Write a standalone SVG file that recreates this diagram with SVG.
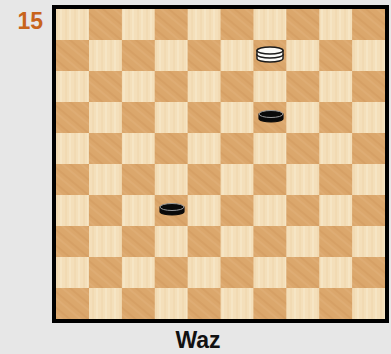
<svg xmlns="http://www.w3.org/2000/svg" width="391" height="354" viewBox="0 0 391 354">
<style>
.lt{fill:#f4dfba}
.dk{fill:#dba76c}
.lbl{font-family:"Liberation Sans",Arial,sans-serif;font-weight:bold}
.wd{fill:#fbfbf8;stroke:#1a1a1a;stroke-width:1.4}
.bd{fill:#0a0a0a;stroke:#0a0a0a;stroke-width:1.2}
.bt{fill:#0a0a0a;stroke:#9a9a9a;stroke-width:1}
</style>
<defs>
<pattern id="dgrain" patternUnits="userSpaceOnUse" width="12" height="12" patternTransform="rotate(40)">
<rect width="12" height="12" fill="#dba76c"/>
<line x1="0" y1="3" x2="12" y2="3" stroke="#c98f52" stroke-width="1.2" opacity="0.5"/>
<line x1="0" y1="8" x2="12" y2="8" stroke="#e6b985" stroke-width="1" opacity="0.6"/>
</pattern>
<pattern id="lgrain" patternUnits="userSpaceOnUse" width="9" height="40">
<rect width="9" height="40" fill="#f4dfba"/>
<line x1="3" y1="0" x2="3" y2="40" stroke="#ecd3a8" stroke-width="1.2" opacity="0.7"/>
<line x1="7" y1="0" x2="7" y2="40" stroke="#faecd2" stroke-width="1" opacity="0.8"/>
</pattern>
<g id="dsq"><rect width="33" height="31" fill="url(#dgrain)"/></g>
</defs>
<rect width="391" height="354" fill="#e7e7e7"/>
<text class="lbl" x="43" y="29" text-anchor="end" font-size="23" fill="#c8641c">15</text>
<g id="board">
<rect x="56" y="9" width="329" height="310" fill="url(#lgrain)"/>
<use href="#dsq" x="88.9" y="9"/><use href="#dsq" x="154.7" y="9"/><use href="#dsq" x="220.5" y="9"/><use href="#dsq" x="286.3" y="9"/><use href="#dsq" x="352.1" y="9"/>
<use href="#dsq" x="56" y="40"/><use href="#dsq" x="121.8" y="40"/><use href="#dsq" x="187.6" y="40"/><use href="#dsq" x="253.4" y="40"/><use href="#dsq" x="319.2" y="40"/>
<use href="#dsq" x="88.9" y="71"/><use href="#dsq" x="154.7" y="71"/><use href="#dsq" x="220.5" y="71"/><use href="#dsq" x="286.3" y="71"/><use href="#dsq" x="352.1" y="71"/>
<use href="#dsq" x="56" y="102"/><use href="#dsq" x="121.8" y="102"/><use href="#dsq" x="187.6" y="102"/><use href="#dsq" x="253.4" y="102"/><use href="#dsq" x="319.2" y="102"/>
<use href="#dsq" x="88.9" y="133"/><use href="#dsq" x="154.7" y="133"/><use href="#dsq" x="220.5" y="133"/><use href="#dsq" x="286.3" y="133"/><use href="#dsq" x="352.1" y="133"/>
<use href="#dsq" x="56" y="164"/><use href="#dsq" x="121.8" y="164"/><use href="#dsq" x="187.6" y="164"/><use href="#dsq" x="253.4" y="164"/><use href="#dsq" x="319.2" y="164"/>
<use href="#dsq" x="88.9" y="195"/><use href="#dsq" x="154.7" y="195"/><use href="#dsq" x="220.5" y="195"/><use href="#dsq" x="286.3" y="195"/><use href="#dsq" x="352.1" y="195"/>
<use href="#dsq" x="56" y="226"/><use href="#dsq" x="121.8" y="226"/><use href="#dsq" x="187.6" y="226"/><use href="#dsq" x="253.4" y="226"/><use href="#dsq" x="319.2" y="226"/>
<use href="#dsq" x="88.9" y="257"/><use href="#dsq" x="154.7" y="257"/><use href="#dsq" x="220.5" y="257"/><use href="#dsq" x="286.3" y="257"/><use href="#dsq" x="352.1" y="257"/>
<use href="#dsq" x="56" y="288"/><use href="#dsq" x="121.8" y="288"/><use href="#dsq" x="187.6" y="288"/><use href="#dsq" x="253.4" y="288"/><use href="#dsq" x="319.2" y="288"/>
<rect x="54" y="7" width="333" height="314" fill="none" stroke="#000" stroke-width="4"/>
</g>
<g id="white-king" transform="translate(270,0)">
<path class="wd" d="M-13,54.5 V58.5 A13,3.5 0 0 0 13,58.5 V54.5 Z"/>
<path class="wd" d="M-13,50.5 V54.5 A13,3.5 0 0 0 13,54.5 V50.5 Z"/>
<ellipse class="wd" cx="0" cy="50.5" rx="13" ry="3.5"/>
</g>
<g id="black-man-1" transform="translate(271,0)">
<path class="bd" d="M-12,114 V118.5 A12,3.5 0 0 0 12,118.5 V114 Z"/>
<ellipse class="bt" cx="0" cy="114" rx="12" ry="3.5"/>
</g>
<g id="black-man-2" transform="translate(172,0)">
<path class="bd" d="M-12,207 V211.5 A12,3.5 0 0 0 12,211.5 V207 Z"/>
<ellipse class="bt" cx="0" cy="207" rx="12" ry="3.5"/>
</g>
<text class="lbl" x="198" y="348" text-anchor="middle" font-size="23" fill="#111">Waz</text>
</svg>
